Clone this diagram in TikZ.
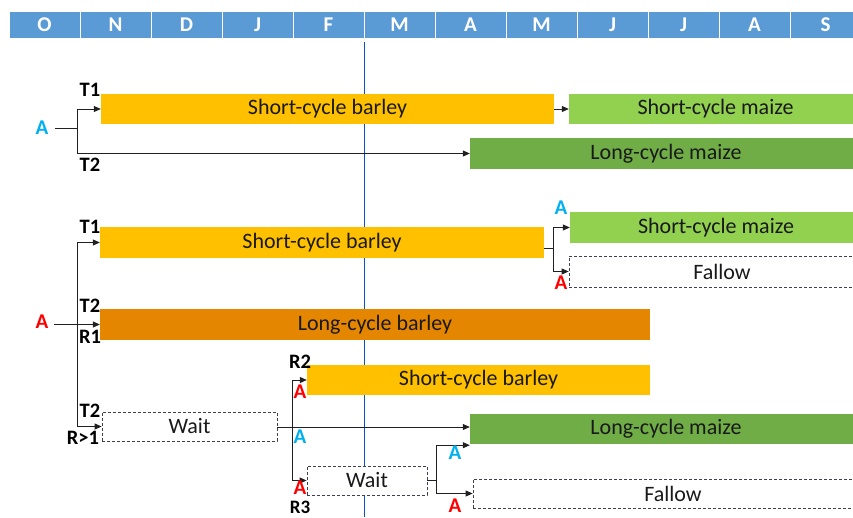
\documentclass[tikz,border=0pt]{standalone}
\usepackage{fontspec}
\setmainfont{Carlito}
\usetikzlibrary{arrows.meta}
\definecolor{hdr}{HTML}{5B9BD5}
\definecolor{axisblue}{RGB}{10,80,200}
\definecolor{barleyc}{HTML}{FFC000}
\definecolor{lbarleyc}{HTML}{E58600}
\definecolor{smaizec}{HTML}{92D050}
\definecolor{lmaizec}{HTML}{70AD47}
\definecolor{acyan}{HTML}{00B0F0}
\definecolor{ared}{HTML}{FF0000}
\definecolor{dashc}{HTML}{3F3F50}
\definecolor{linec}{HTML}{202020}
\tikzset{
  month/.style={fill=hdr, draw=white, line width=0.8pt, minimum width=71pt, minimum height=27pt,
    inner sep=0pt, text=white, font=\fontsize{21}{24}\selectfont\bfseries},
  bar/.style={inner sep=0pt, font=\fontsize{22}{26}\selectfont, text=black!90},
  waitbox/.style={bar, fill=white, draw=dashc, line width=0.8pt, dash pattern=on 3pt off 2pt},
  lbl/.style={inner sep=0pt, text depth=0pt, font=\fontsize{20.5}{24}\selectfont\bfseries},
  alab/.style={inner sep=0pt, text depth=0pt, font=\fontsize{21}{24}\selectfont\bfseries},
  conn/.style={draw=linec, line width=0.8pt},
  arr/.style={conn, -{Triangle[length=7pt,width=6pt]}},
}
\begin{document}
\begin{tikzpicture}[x=1pt,y=-1pt]
\clip (0,0) rectangle (853,517);
\fill[white] (0,0) rectangle (853,517);

% month header
\foreach \m [count=\i from 0] in {O,N,D,J,F,M,A,M,J,J,A,S}
  \node[month] (mo\i) at ({9+71*\i+35.5},24.5) {\m};

% current date marker
\draw[axisblue, line width=1.8pt] (364.5,42) coordinate (now top) -- (364.5,517) coordinate (now bottom);

% ---------- scenario 1 ----------
\node[bar, fill=barleyc, minimum width=453pt, minimum height=30pt] (b1) at (327.5,109) {Short-cycle barley};
\node[bar, fill=smaizec, minimum width=293pt, minimum height=30pt] (m1) at (715.5,109) {Short-cycle maize};
\node[bar, fill=lmaizec, minimum width=392pt, minimum height=31pt] (lm1) at (666,153.5) {Long-cycle maize};
\node[alab, text=acyan] (a1) at (42,128) {A};
\coordinate (j1) at (77,128);
\node[lbl] (t1a) at (90,90) {T1};
\node[lbl] (t2a) at (90,165) {T2};
\draw[conn] ([xshift=6pt]a1.east) -- (j1);
\draw[arr] (j1) |- (b1.west);
\draw[arr] (j1) |- (lm1.west);
\draw[arr] (b1) -- (m1);

% ---------- scenario 2 ----------
\node[bar, fill=barleyc, minimum width=444pt, minimum height=31pt] (b2) at (322,242.5) {Short-cycle barley};
\node[bar, fill=lbarleyc, minimum width=550pt, minimum height=31pt] (lb) at (375,324.5) {Long-cycle barley};
\node[bar, fill=smaizec, minimum width=292pt, minimum height=31pt] (m2) at (716,227.5) {Short-cycle maize};
\node[waitbox, minimum width=306pt, minimum height=31pt] (f1) at (722,271.5) {Fallow};
\node[waitbox, minimum width=175pt, minimum height=29pt] (w1) at (189.5,426.5) {Wait};
\node[bar, fill=barleyc, minimum width=343pt, minimum height=30pt] (b3) at (478.5,380) {Short-cycle barley};
\node[bar, fill=lmaizec, minimum width=392pt, minimum height=30pt] (lm2) at (666,429) {Long-cycle maize};
\node[waitbox, minimum width=120pt, minimum height=29pt] (w2) at (367,480.5) {Wait};
\node[waitbox, minimum width=400pt, minimum height=29pt] (f2) at (673,493.5) {Fallow};

\node[alab, text=ared] (a2) at (42,322) {A};
\coordinate (j2) at (77,324.5);
\node[lbl] (t1b) at (90,227) {T1};
\node[lbl] (t2b) at (90,306) {T2};
\node[lbl] (r1) at (90,337) {R1};
\node[lbl] (t2c) at (90,411) {T2};
\node[lbl] (rg1) at (83,438) {R>1};

\draw[arr] ([xshift=5pt]a2.east |- j2) -- (lb.west);
\draw[arr] (j2) |- (b2.west);
\draw[arr] (j2) |- (w1.west);

% after short-cycle barley
\coordinate (j3) at (553,248);
\draw[conn] (b2.east |- j3) -- (j3);
\draw[arr] (j3) |- (m2.west);
\draw[arr] (j3) |- (f1.west);
\node[alab, text=acyan] (a3) at (561,208) {A};
\node[alab, text=ared] (a4) at (561,283) {A};

% after the first wait
\coordinate (j4) at (292,427);
\draw[arr] (w1.east |- j4) -- (lm2.west |- j4);
\draw[arr] (j4) |- (b3.west);
\draw[arr] (j4) |- (w2.west);
\node[lbl] (r2) at (300,362) {R2};
\node[alab, text=ared] (a5) at (300,392) {A};
\node[alab, text=acyan] (a6) at (300,437) {A};
\node[alab, text=ared] (a7) at (300,488) {A};
\node[lbl, font=\fontsize{19}{22}\selectfont\bfseries] (r3) at (300,507) {R3};

% after the second wait
\coordinate (j5) at (436,480.5);
\draw[conn] (w2.east) -- (j5);
\draw[arr] (j5) |- ([yshift=-1pt]lm2.south west);
\draw[arr] (j5) |- (f2.west);
\node[alab, text=acyan] (a8) at (455,453) {A};
\node[alab, text=ared] (a9) at (455,506) {A};
\end{tikzpicture}
\end{document}
